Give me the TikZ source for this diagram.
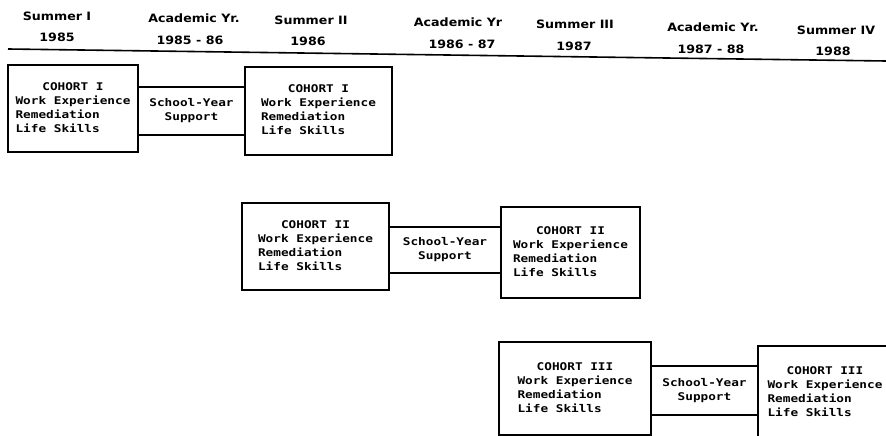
\documentclass[tikz,border=0pt]{standalone}
\usepackage{fontspec}
\newfontfamily\boxfont{DejaVu Sans Mono}[FakeStretch=1.2]
\newfontfamily\headfont{DejaVu Sans}[FakeStretch=1.1]
\tikzset{
  head/.style={font=\headfont\bfseries\fontsize{11.5}{13}\selectfont, inner sep=0pt},
  cohort/.style={draw, line width=1.3pt, rectangle, inner sep=0pt,
    font=\boxfont\bfseries\fontsize{10.6}{14}\selectfont},
  support/.style={draw, line width=1.3pt, rectangle, inner sep=0pt, align=center,
    font=\boxfont\bfseries\fontsize{10.6}{14}\selectfont},
}
\newcommand{\cohorttext}[1]{\begin{tabular}{@{}l@{}}\multicolumn{1}{@{}c@{}}{COHORT #1}\\Work Experience\\Remediation\\Life Skills\end{tabular}}
\begin{document}
\begin{tikzpicture}[x=1pt,y=-1pt]
\clip (0,0) rectangle (886,436);
\useasboundingbox (0,0) rectangle (886,436);
% header
\node[head] (h1) at (57,16) {Summer I};
\node[head] (y1) at (57,37) {1985};
\node[head] (h2) at (194,18) {Academic Yr.};
\node[head] (y2) at (190,40) {1985 - 86};
\node[head] (h3) at (311,20) {Summer II};
\node[head] (y3) at (308,41) {1986};
\node[head] (h4) at (458,22) {Academic Yr};
\node[head] (y4) at (462,44) {1986 - 87};
\node[head] (h5) at (575,24) {Summer III};
\node[head] (y5) at (574,46) {1987};
\node[head] (h6) at (713,27) {Academic Yr.};
\node[head] (y6) at (711,49) {1987 - 88};
\node[head] (h7) at (836,30) {Summer IV};
\node[head] (y7) at (833,51) {1988};
\coordinate (la) at (8,49);
\coordinate (lb) at (886,61);
\draw[line width=1.6pt] (la) -- (lb);
% cohort I
\node[cohort, minimum width=130, minimum height=87] (c1a) at (73,108.5) {\cohorttext{I}};
\node[support, minimum width=107, minimum height=48] (s1) at (191.5,111) {School-Year\\Support};
\node[cohort, minimum width=147, minimum height=88] (c1b) at (318.5,111) {\cohorttext{I}};
% cohort II
\node[cohort, minimum width=147, minimum height=87] (c2a) at (315.5,246.5) {\cohorttext{II}};
\node[support, minimum width=112, minimum height=46] (s2) at (445,250) {School-Year\\Support};
\node[cohort, minimum width=139, minimum height=91] (c2b) at (570.5,252.5) {\cohorttext{II}};
% cohort III
\node[cohort, minimum width=152, minimum height=93] (c3a) at (575,388.5) {\cohorttext{III}};
\node[support, minimum width=107, minimum height=49] (s3) at (704.5,390.5) {School-Year\\Support};
\node[cohort, minimum width=134, minimum height=94] (c3b) at (825,393) {\cohorttext{III}};
\end{tikzpicture}
\end{document}
